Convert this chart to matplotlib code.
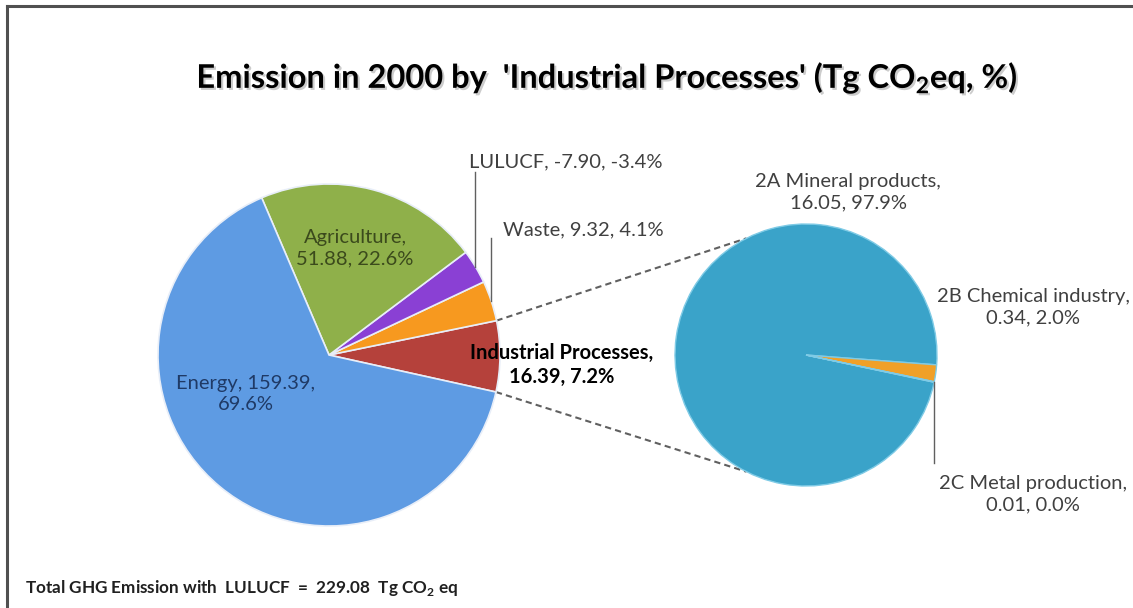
import numpy as np
import matplotlib.pyplot as plt
import matplotlib.patheffects as pe

plt.rcParams['font.family'] = ['Lato', 'DejaVu Sans']
plt.rcParams['mathtext.fontset'] = 'custom'
plt.rcParams['mathtext.rm'] = 'Lato'
plt.rcParams['mathtext.bf'] = 'Lato:bold'

# Emissions in 2000 by sector (Tg CO2 eq)
sectores = ['Energy', 'Agriculture', 'LULUCF', 'Waste', 'Industrial Processes']
emisiones = [159.39, 51.88, -7.90, 9.32, 16.39]
porcentajes = [69.6, 22.6, -3.4, 4.1, 7.2]
total = 229.08

# Breakdown of 'Industrial Processes'
subsectores = ['2A Mineral products', '2B Chemical industry', '2C Metal production']
sub_emisiones = [16.05, 0.34, 0.01]
sub_porcentajes = [97.9, 2.0, 0.0]

colores = ['#5e9be3', '#8fb04a', '#8a40d4', '#f7991f', '#b5413b']
sub_colores = ['#3aa3c9', '#f0a028', '#e07b1a']

W, H = 1133, 608
fig = plt.figure(figsize=(W / 100, H / 100), dpi=100)
ax = fig.add_axes([0, 0, 1, 1])

# pixel positions measured from the top-left corner
def py(y):
    return H - y

c1, r1 = (329, py(355)), 171
c2, r2 = (806, py(355)), 131

# main pie, counter-clockwise starting with Industrial Processes
orden = [4, 3, 2, 1, 0]
wedges1, _ = ax.pie([abs(emisiones[i]) for i in orden],
                    colors=[colores[i] for i in orden],
                    startangle=-12.5, counterclock=True,
                    center=c1, radius=r1, frame=True,
                    wedgeprops=dict(edgecolor='#e8eef8', linewidth=1.2))

# second pie with the Industrial Processes breakdown
wedges2, _ = ax.pie(sub_emisiones, colors=sub_colores,
                    startangle=-12, counterclock=False,
                    center=c2, radius=r2, frame=True,
                    wedgeprops=dict(edgecolor='#7fcbe6', linewidth=1.0))

# dashed connectors from the Industrial Processes slice to the second pie
w_ip = wedges1[0]
for ang1, ang2 in [(w_ip.theta2, 117), (w_ip.theta1, -117)]:
    x1 = c1[0] + r1 * np.cos(np.radians(ang1))
    y1 = c1[1] + r1 * np.sin(np.radians(ang1))
    x2 = c2[0] + r2 * np.cos(np.radians(ang2))
    y2 = c2[1] + r2 * np.sin(np.radians(ang2))
    ax.plot([x1, x2], [y1, y2], ls=(0, (3, 2)), color='#606060', lw=1.5, zorder=0)

gris = '#404040'
fs = 14.5

def etiqueta(i):
    return f'{emisiones[i]:.2f}, {porcentajes[i]:.1f}%'

ax.text(246, py(394), f'Energy, {emisiones[0]:.2f},\n{porcentajes[0]:.1f}%',
        ha='center', va='center', fontsize=fs, color='#1f3a66', linespacing=1.3)
ax.text(355, py(248), f'Agriculture,\n{etiqueta(1)}',
        ha='center', va='center', fontsize=fs, color='#3b4a1c', linespacing=1.3)
ax.text(566, py(162), f'LULUCF, {etiqueta(2)}',
        ha='center', va='center', fontsize=fs, color=gris)
ax.text(583, py(230), f'Waste, {etiqueta(3)}',
        ha='center', va='center', fontsize=fs, color=gris)
ax.text(562, py(365), f'Industrial Processes,\n{etiqueta(4)}',
        ha='center', va='center', fontsize=fs, color='black', fontweight='bold',
        linespacing=1.3)

# leader lines for the thin slices
for w, y_top in [(wedges1[2], py(172)), (wedges1[1], py(238))]:
    ang = np.radians((w.theta1 + w.theta2) / 2)
    x = c1[0] + r1 * np.cos(ang)
    y = c1[1] + r1 * np.sin(ang)
    ax.plot([x, x], [y, y_top], color='#606060', lw=1)

ax.text(848, py(192), f'{subsectores[0]},\n{sub_emisiones[0]:.2f}, {sub_porcentajes[0]:.1f}%',
        ha='center', va='center', fontsize=fs, color=gris, linespacing=1.35)
ax.text(1033, py(307), f'{subsectores[1]},\n{sub_emisiones[1]:.2f}, {sub_porcentajes[1]:.1f}%',
        ha='center', va='center', fontsize=fs, color=gris, linespacing=1.35)
ax.text(1033, py(494), f'{subsectores[2]},\n{sub_emisiones[2]:.2f}, {sub_porcentajes[2]:.1f}%',
        ha='center', va='center', fontsize=fs, color=gris, linespacing=1.35)

w_2c = wedges2[2]
x = c2[0] + r2 * np.cos(np.radians(w_2c.theta2))
y = c2[1] + r2 * np.sin(np.radians(w_2c.theta2))
ax.plot([x, x], [y, py(463)], color='#606060', lw=1)

ax.text(607, py(78), r"Emission in 2000 by  'Industrial Processes' (Tg CO$_\mathregular{2}$eq, %)",
        ha='center', va='center', fontsize=23.5, fontweight='bold', color='black',
        path_effects=[pe.withSimplePatchShadow(offset=(1.5, -1.5), alpha=0.2)])

ax.text(25, py(588), r'Total GHG Emission with  LULUCF  =  ' + f'{total:.2f}' + r'  Tg CO$_\mathregular{2}$ eq',
        ha='left', va='center', fontsize=12.3, fontweight='bold', color='#202020')

# chart frame
ax.plot([7, W], [py(6), py(6)], color='#505050', lw=2.2, clip_on=False)
ax.plot([7, 7], [py(6), 0], color='#505050', lw=2.2, clip_on=False)

ax.set_xlim(0, W)
ax.set_ylim(0, H)
ax.set_aspect('equal')
ax.axis('off')

fig.savefig('out.png', dpi=100)
